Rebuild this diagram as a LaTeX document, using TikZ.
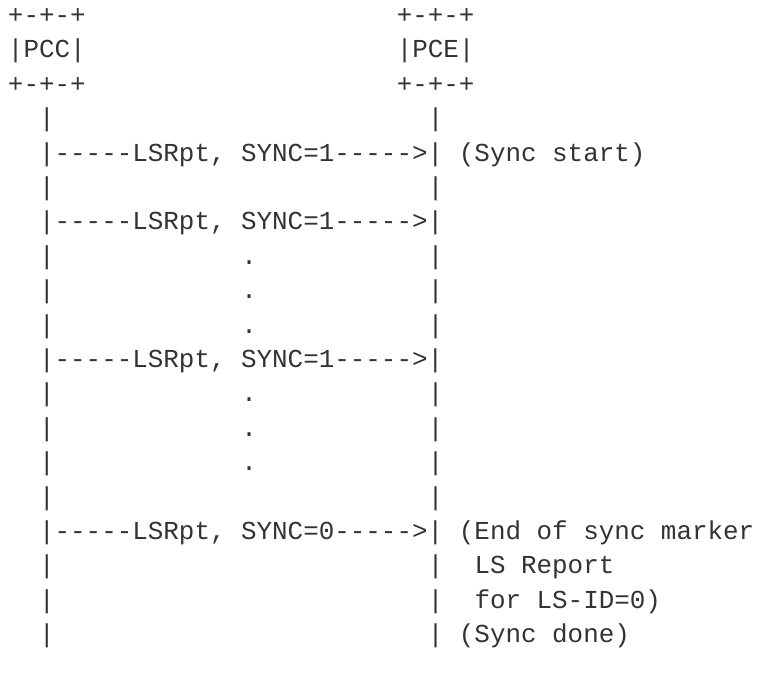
\documentclass[tikz,border=0pt]{standalone}
\usepackage{fontspec}
\setmonofont{Liberation Mono}
\usepackage{tikz}
\usetikzlibrary{positioning}
\definecolor{ink}{HTML}{333333}

\begin{document}
\begin{tikzpicture}[
  x=15.55pt, y=-34.4pt,
  txt/.style={anchor=base west, inner sep=0pt, outer sep=0pt, text=ink,
    font=\ttfamily\fontsize{25.9}{34}\selectfont}
  ]
  \useasboundingbox (-8pt,23.5pt) rectangle (752pt,-651.5pt);
  % boxes
  \node[txt] (pcctop) at (0,0) {+-+-+};
  \node[txt] (pcc)    at (0,1) {|PCC|};
  \node[txt] (pccbot) at (0,2) {+-+-+};
  \node[txt] (pcetop) at (25,0) {+-+-+};
  \node[txt] (pce)    at (25,1) {|PCE|};
  \node[txt] (pcebot) at (25,2) {+-+-+};
  % lifelines
  \foreach \r in {3,5,7,8,9,11,12,13,14,16,17,18} {
    \node[txt] (lcc\r) at (2,\r) {|};
    \node[txt] (lce\r) at (27,\r) {|};
  }
  % messages
  \node[txt] (msga) at (2,4)  {|-----LSRpt, SYNC=1----->|};
  \node[txt] (msgb) at (2,6)  {|-----LSRpt, SYNC=1----->|};
  \node[txt] (msgc) at (2,10) {|-----LSRpt, SYNC=1----->|};
  \node[txt] (msgd) at (2,15) {|-----LSRpt, SYNC=0----->|};
  % dots
  \foreach \r in {7,8,9,11,12,13}
    \node[txt] (dot\r) at (15,\r) {.};
  % notes
  \node[txt] (start) at (29,4)  {(Sync start)};
  \node[txt] (endA)  at (29,15) {(End of sync marker};
  \node[txt] (endB)  at (30,16) {LS Report};
  \node[txt] (endC)  at (30,17) {for LS-ID=0)};
  \node[txt] (done)  at (29,18) {(Sync done)};
\end{tikzpicture}
\end{document}
